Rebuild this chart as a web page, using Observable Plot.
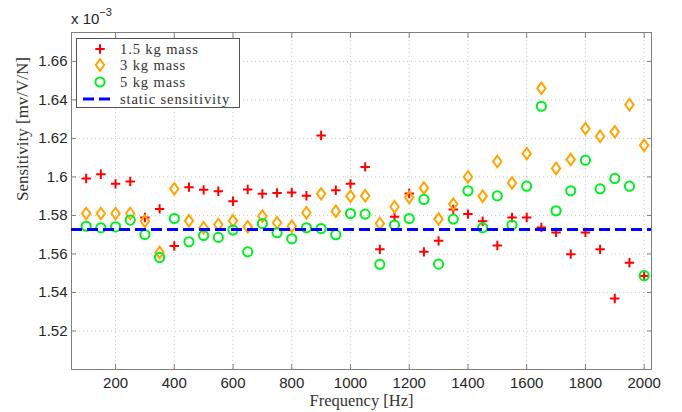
<!DOCTYPE html>
<html>
<head>
<meta charset="utf-8">
<script src="https://cdn.jsdelivr.net/npm/d3@7"></script>
<script src="https://cdn.jsdelivr.net/npm/@observablehq/plot@0.6"></script>
<style>
  html, body { margin: 0; padding: 0; background: #fff; }
  #wrap { position: relative; width: 682px; height: 412px; }
  #legend { position: absolute; left: 76px; top: 38px; width: 164px; height: 70px;
    border: 1px solid #555; background: #fff; box-sizing: border-box; }
  .row { position: absolute; left: 0; height: 16px; width: 100%;
    font-family: "Liberation Serif", "DejaVu Serif", serif; font-size: 14.5px; letter-spacing: 0.9px;
    color: #333; line-height: 16px; }
  .row svg { position: absolute; left: 6px; top: 0; }
  .row span { position: absolute; left: 43px; top: 0; white-space: nowrap; }
  #xexp { position: absolute; left: 71px; top: 8px; font-family: "Liberation Sans", Arial, sans-serif;
    font-size: 15px; color: #262626; }
  #xexp sup { font-size: 11px; position: relative; top: -2px; }
</style>
</head>
<body>
<div id="wrap">
  <div id="chart"></div>
  <div id="xexp">x 10<sup>&minus;3</sup></div>
  <div id="legend"></div>
</div>
<script>
const freq = [100,150,200,250,300,350,400,450,500,550,600,650,700,750,800,850,900,950,1000,1050,
  1100,1150,1200,1250,1300,1350,1400,1450,1500,1550,1600,1650,1700,1750,1800,1850,1900,1950,2000];
const mass15 = [1.5992,1.6014,1.5964,1.5976,1.5789,1.5834,1.5641,1.5947,1.5933,1.5926,1.5874,1.5935,1.5912,1.5917,1.5919,1.5902,1.6215,1.5931,1.5964,1.6052,
  1.5624,1.5793,1.5914,1.5611,1.5668,1.5831,1.5807,1.5770,1.5644,1.5789,1.5789,1.5738,1.5712,1.5599,1.5712,1.5624,1.5369,1.5554,1.5485];
const mass3 = [1.5810,1.5810,1.5810,1.5810,1.5770,1.5608,1.5938,1.5772,1.5736,1.5753,1.5772,1.5741,1.5796,1.5762,1.5744,1.5814,1.5912,1.5822,1.5900,1.5902,
  1.5758,1.5845,1.5893,1.5943,1.5781,1.5859,1.6000,1.5900,1.6080,1.5969,1.6121,1.6460,1.6044,1.6090,1.6251,1.6211,1.6234,1.6375,1.6164];
const mass5 = [1.5744,1.5736,1.5741,1.5776,1.5701,1.5582,1.5784,1.5663,1.5696,1.5686,1.5724,1.5611,1.5758,1.5710,1.5679,1.5736,1.5732,1.5700,1.5810,1.5807,
  1.5546,1.5750,1.5784,1.5883,1.5547,1.5781,1.5928,1.5736,1.5902,1.5750,1.5952,1.6367,1.5824,1.5928,1.6087,1.5938,1.5992,1.5952,1.5487];
const staticSensitivity = 1.5727;
const xTicks = [200,400,600,800,1000,1200,1400,1600,1800,2000];
const yTicks = [1.52,1.54,1.56,1.58,1.60,1.62,1.64,1.66];
const seriesNames = ["1.5 kg mass", "3 kg mass", "5 kg mass", "static sensitivity"];
const seriesColors = ["#ff0000", "#ffa500", "#00ee22", "#0000ff"];

const rad = size => Math.sqrt(size / Math.PI);
const plusSym = { draw(c, s) { const r = rad(s); c.moveTo(-r, 0); c.lineTo(r, 0); c.moveTo(0, -r); c.lineTo(0, r); } };
const diamondSym = { draw(c, s) { const r = rad(s); const w = r * 0.76, h = r * 1.05;
  c.moveTo(0, -h); c.lineTo(w, 0); c.lineTo(0, h); c.lineTo(-w, 0); c.closePath(); } };
const circleSym = { draw(c, s) { const r = rad(s); c.moveTo(r, 0); c.arc(0, 0, r, 0, 2 * Math.PI); } };

const toRows = vals => freq.map((f, i) => ({ f, v: vals[i] }));
const fmtY = d => String(+d.toFixed(2));
const fmtX = d => String(d);

const chart = Plot.plot({
  width: 682, height: 412,
  marginLeft: 71, marginRight: 31, marginTop: 32, marginBottom: 43,
  style: { background: "#fff", fontFamily: "Liberation Sans, Arial, sans-serif", fontSize: "15px", color: "#262626" },
  x: { domain: [50, 2025], ticks: xTicks },
  y: { domain: [1.50, 1.675], ticks: yTicks },
  marks: [
    Plot.gridX(xTicks, { stroke: "#c8c8c8", strokeOpacity: 1, strokeDasharray: "1,3" }),
    Plot.gridY(yTicks, { stroke: "#c8c8c8", strokeOpacity: 1, strokeDasharray: "1,3" }),
    Plot.axisX(xTicks, { anchor: "bottom", tickSize: 0, tickPadding: 8, tickFormat: fmtX, label: null, fontSize: 15, fill: "#262626" }),
    Plot.axisX(xTicks, { anchor: "bottom", tickSize: -5, tickFormat: () => "", label: null, stroke: "#7f7f7f" }),
    Plot.axisX(xTicks, { anchor: "top", tickSize: -5, tickFormat: () => "", label: null, stroke: "#7f7f7f" }),
    Plot.axisY(yTicks, { anchor: "left", tickSize: 0, tickPadding: 4, tickFormat: fmtY, label: null, fontSize: 15, fill: "#262626" }),
    Plot.axisY(yTicks, { anchor: "left", tickSize: -5, tickFormat: () => "", label: null, stroke: "#7f7f7f" }),
    Plot.axisY(yTicks, { anchor: "right", tickSize: -5, tickFormat: () => "", label: null, stroke: "#7f7f7f" }),
    Plot.frame({ stroke: "#7f7f7f" }),
    Plot.dot(toRows(mass15), { x: "f", y: "v", symbol: plusSym, r: 4.7, stroke: seriesColors[0], fill: "none", strokeWidth: 2 }),
    Plot.dot(toRows(mass3), { x: "f", y: "v", symbol: diamondSym, r: 5.5, stroke: seriesColors[1], fill: "none", strokeWidth: 2 }),
    Plot.dot(toRows(mass5), { x: "f", y: "v", symbol: circleSym, r: 4.6, stroke: seriesColors[2], fill: "none", strokeWidth: 2 }),
    Plot.ruleY([staticSensitivity], { stroke: seriesColors[3], strokeWidth: 3, strokeDasharray: "11,5" }),
    Plot.text(["Frequency [Hz]"], { frameAnchor: "bottom", dy: 36, fontFamily: "Liberation Serif, serif", fontSize: 16.5, fill: "#333" }),
    Plot.text(["Sensitivity [mv/V/N]"], { frameAnchor: "left", dx: -49, rotate: -90, fontFamily: "Liberation Serif, serif", fontSize: 17, fill: "#333" })
  ]
});
document.getElementById("chart").appendChild(chart);

// legend
const legend = document.getElementById("legend");
const tops = [1.5, 18.3, 35.1, 51.9];
const symbolsSvg = [
  `<svg width="36" height="16"><path d="M17,3.3L17,12.7M12.3,8L21.7,8" stroke="${seriesColors[0]}" stroke-width="2" fill="none"/></svg>`,
  `<svg width="36" height="16"><path d="M17,2.2L21.2,8L17,13.8L12.8,8Z" stroke="${seriesColors[1]}" stroke-width="2" fill="none"/></svg>`,
  `<svg width="36" height="16"><circle cx="17" cy="8" r="4.6" stroke="${seriesColors[2]}" stroke-width="2" fill="none"/></svg>`,
  `<svg width="36" height="16"><line x1="0" x2="32" y1="8" y2="8" stroke="${seriesColors[3]}" stroke-width="3" stroke-dasharray="11,5"/></svg>`
];
seriesNames.forEach((name, i) => {
  const row = document.createElement("div");
  row.className = "row";
  row.style.top = tops[i] + "px";
  row.innerHTML = symbolsSvg[i] + `<span>${name}</span>`;
  legend.appendChild(row);
});
</script>
</body>
</html>
